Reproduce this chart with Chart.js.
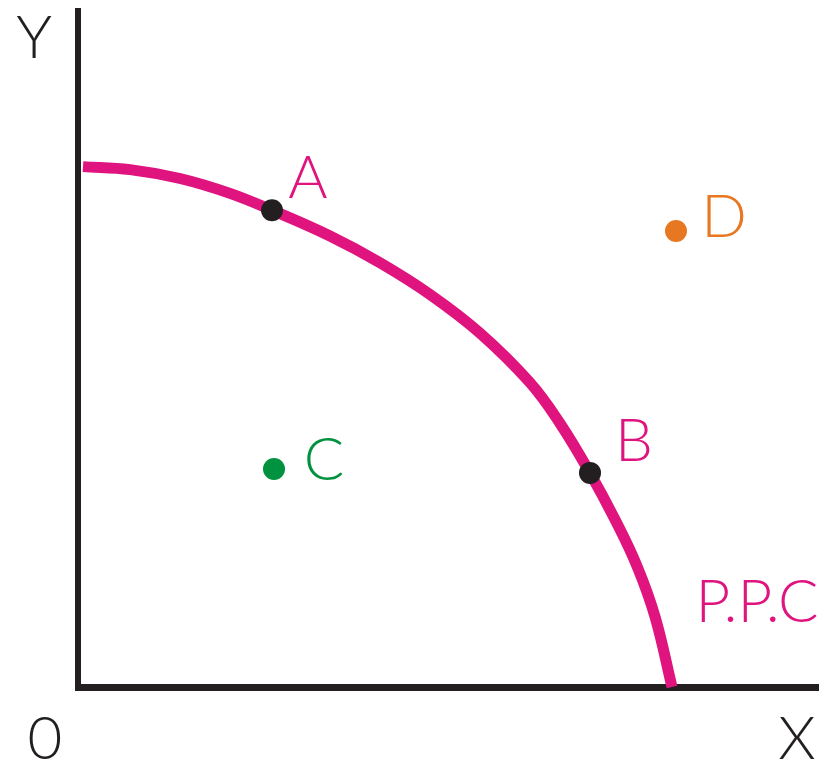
<!DOCTYPE html>
<html>
<head>
<meta charset="utf-8">
<script src="https://cdn.jsdelivr.net/npm/chart.js@4/dist/chart.umd.min.js"></script>
<style>
  html, body { margin: 0; padding: 0; background: #fff; }
  #wrap { width: 835px; height: 761px; }
</style>
</head>
<body>
<div id="wrap"><canvas id="ppc"></canvas></div>
<script>
// production possibility curve
const curveX = [5, 52, 102, 152, 194, 252, 302, 352, 402, 452, 482, 512, 537, 559, 577, 594]
const curveY = [525, 522, 513, 498, 481, 455, 428, 396, 357, 307, 266, 216, 169, 122, 71, 0]

const pointNames = ["A", "B", "C", "D"]
const pointX = [194, 512, 196, 598]
const pointY = [481, 216, 220, 460]
const pointColors = ["#231f20", "#231f20", "#00923f", "#e87722"]
const labelColors = ["#e0147e", "#e0147e", "#00923f", "#e87722"]
// label offset from its dot, in pixels
const labelDX = [36, 44, 50, 48]
const labelDY = [-32, -31, -8, -13]

const curveName = "P.P.C"
const pink = "#e0147e"
const ink = "#231f20"
const FONT = "300 60px Lato, 'Open Sans', sans-serif"

const curve = curveX.map((x, i) => ({ x: x, y: curveY[i] }))

const datasets = [{
    label: curveName,
    data: curve,
    showLine: true,
    borderColor: pink,
    borderWidth: 11,
    pointRadius: 0,
    tension: 0.4,
    clip: false,
    order: 2
}]

pointNames.forEach((n, i) => {
    datasets.push({
        label: n,
        data: [{ x: pointX[i], y: pointY[i] }],
        backgroundColor: pointColors[i],
        borderWidth: 0,
        pointRadius: 11,
        clip: false,
        order: 1
    })
})

const labelsPlugin = {
    id: "labels",
    afterDraw(chart) {
        const ctx = chart.ctx
        const xs = chart.scales.x
        const ys = chart.scales.y
        const area = chart.chartArea
        ctx.save()
        ctx.font = FONT
        ctx.textAlign = "center"
        ctx.textBaseline = "middle"
        pointNames.forEach((n, i) => {
            ctx.fillStyle = labelColors[i]
            ctx.fillText(n, xs.getPixelForValue(pointX[i]) + labelDX[i], ys.getPixelForValue(pointY[i]) + labelDY[i])
        })
        ctx.fillStyle = pink
        ctx.fillText(curveName, xs.getPixelForValue(679), ys.getPixelForValue(85))
        ctx.fillStyle = ink
        ctx.fillText("Y", area.left - 44, area.top + 28)
        ctx.fillText("0", area.left - 33, area.bottom + 53)
        ctx.fillText("X", area.right - 21, area.bottom + 53)
        ctx.restore()
    }
}

const config = {
    type: "scatter",
    data: { datasets: datasets },
    options: {
        responsive: true,
        maintainAspectRatio: false,
        animation: false,
        layout: { padding: { left: 78, top: 5, right: 17, bottom: 74 } },
        plugins: { legend: { display: false }, tooltip: { enabled: false } },
        scales: {
            x: {
                min: 0, max: 740,
                grid: { display: false, drawTicks: false },
                ticks: { display: false },
                border: { display: true, color: ink, width: 7 }
            },
            y: {
                min: 0, max: 682,
                grid: { display: false, drawTicks: false },
                ticks: { display: false },
                border: { display: true, color: ink, width: 6 }
            }
        }
    },
    plugins: [labelsPlugin]
}

const myChart = new Chart(document.getElementById("ppc"), config)
</script>
</body>
</html>
